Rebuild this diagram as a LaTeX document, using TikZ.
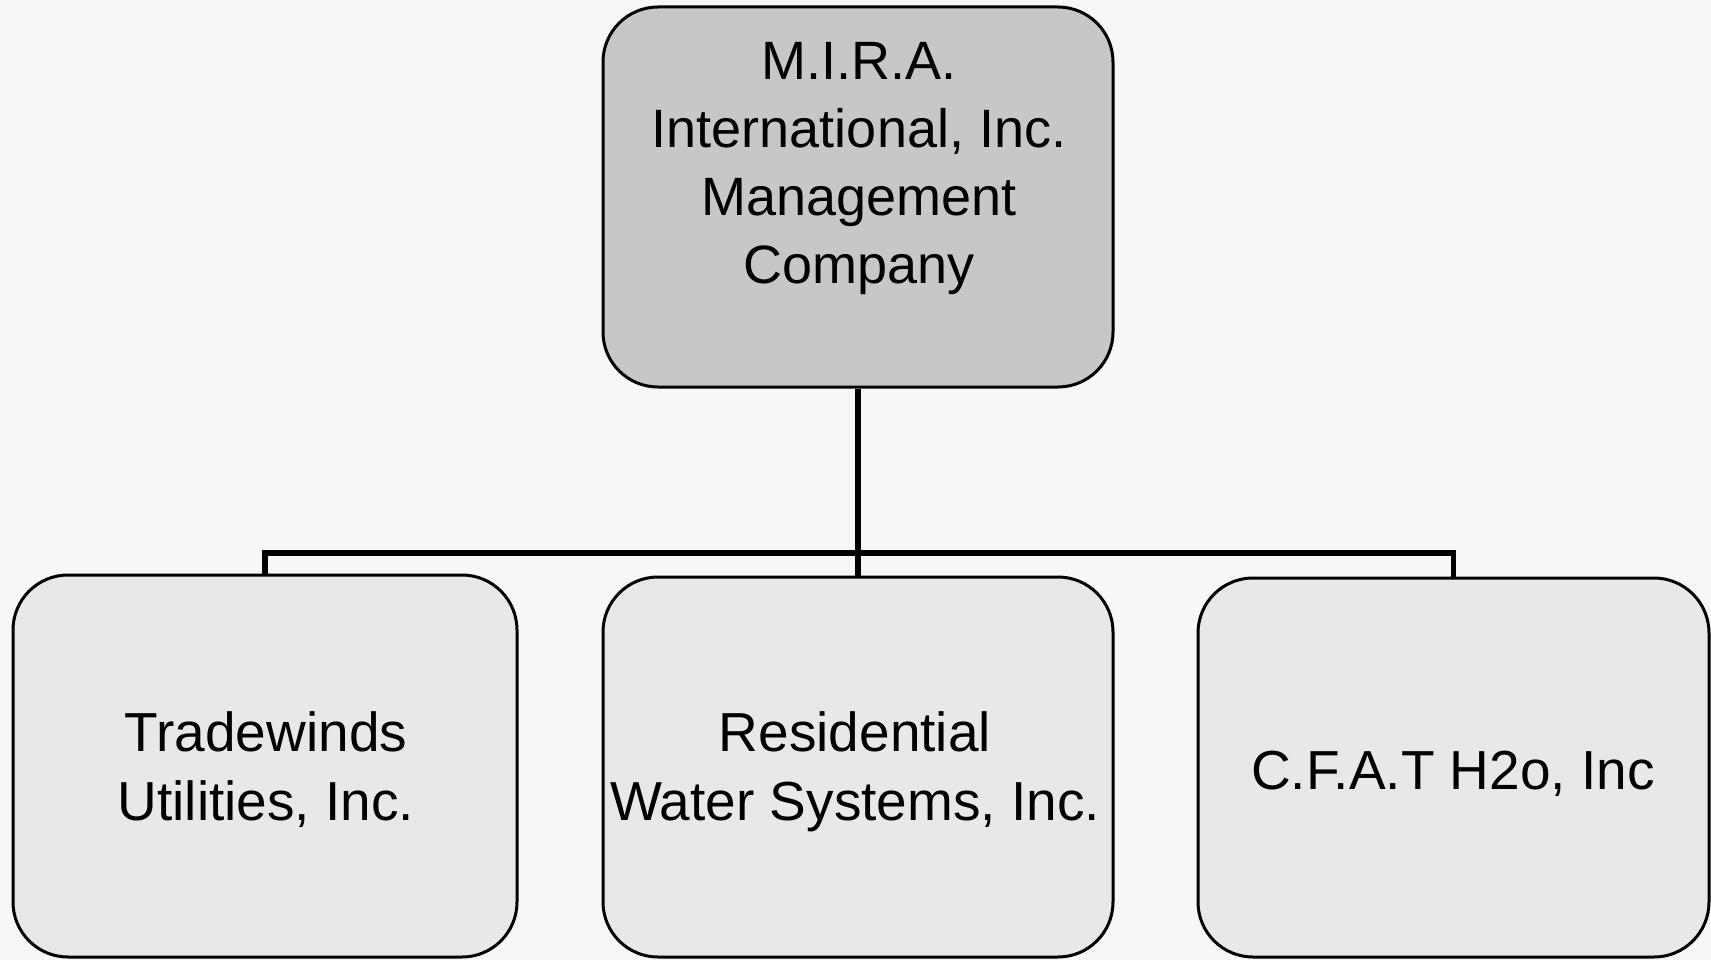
\documentclass[tikz,border=0pt]{standalone}
\usepackage{fontspec}
\setmainfont{Liberation Sans}
\begin{document}
\begin{tikzpicture}[x=1pt,y=-1pt,
  orgbox/.style={draw=black, line width=3pt, rounded corners=55pt, inner sep=0pt},
  topfill/.style={fill=black!22},
  subfill/.style={fill=black!9},
  lbl/.style={align=center, inner sep=0pt, text=black, font=\fontsize{55}{69}\selectfont},
  toplbl/.style={align=center, inner sep=0pt, text=black, font=\fontsize{54}{68}\selectfont},
  conn/.style={draw=black, line width=5.5pt}]
\fill[black!3] (0,0) rectangle (1711,960);
\useasboundingbox (0,0) rectangle (1711,960);
% boxes
\node[orgbox, topfill, minimum width=510pt, minimum height=380pt] (top) at (858,197) {};
\node[orgbox, subfill, minimum width=504pt, minimum height=382pt] (left) at (265,766) {};
\node[orgbox, subfill, minimum width=510pt, minimum height=380pt] (mid) at (858,767) {};
\node[orgbox, subfill, minimum width=511pt, minimum height=379pt] (right) at (1453.5,767.5) {};
% texts
\node[toplbl] (ttop) at (859,169) {M.I.R.A.\\International, Inc.\\Management\\Company};
\node[lbl] (tleft) at (266,770) {Tradewinds\\Utilities, Inc.};
\node[lbl] (tmid) at (855,772) {Residential\\Water Systems, Inc.};
\node[lbl] (tright) at (1453,774) {C.F.A.T H2o, Inc};
% connectors
\coordinate (bus) at (858,553);
\draw[conn] (top.south) -- (bus);
\draw[conn] (left.north) |- (bus) -| (right.north);
\draw[conn] (bus) -- (mid.north);
\end{tikzpicture}
\end{document}
